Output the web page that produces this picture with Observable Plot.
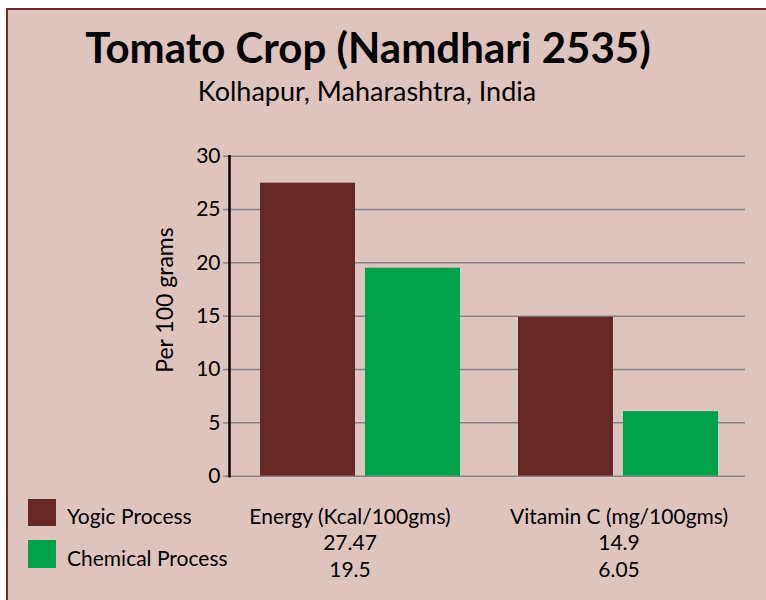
<!DOCTYPE html>
<html>
<head>
<meta charset="utf-8">
<script src="https://cdn.jsdelivr.net/npm/d3@7"></script>
<script src="https://cdn.jsdelivr.net/npm/@observablehq/plot@0.6"></script>
<style>
  html, body { margin: 0; padding: 0; background: #ffffff; }
  #wrap { position: relative; width: 766px; height: 600px; overflow: hidden; font-family: Lato, "Open Sans", sans-serif; color: #000; }
  #box { position: absolute; left: 6px; top: 8px; width: 820px; height: 640px; border: 2px solid #6e2b2a; background: #dec4be; box-sizing: border-box; }
  .t { position: absolute; white-space: nowrap; line-height: 1; }
  .c { transform: translateX(-50%); }
  .sw { position: absolute; }
  #chart { position: absolute; left: 0; top: 130px; }
</style>
</head>
<body>
<div id="wrap">
  <div id="box"></div>
  <div id="chart"></div>
</div>
<script>
const title = "Tomato Crop (Namdhari 2535)";
const subtitle = "Kolhapur, Maharashtra, India";
const yLabel = "Per 100 grams";
const groups = ["Energy (Kcal/100gms)", "Vitamin C (mg/100gms)"];
const series = ["Yogic Process", "Chemical Process"];
const yogic = [27.47, 14.9];
const chemical = [19.5, 6.05];
const yTicks = [0, 5, 10, 15, 20, 25, 30];
const colors = ["#662826", "#00a14b"];

const valuesBySeries = [yogic, chemical];
const data = [];
series.forEach((s, si) => groups.forEach((g, gi) => data.push({group: g, series: s, value: valuesBySeries[si][gi]})));

const wrap = document.getElementById("wrap");
function addText(txt, x, baseline, size, opts = {}) {
  const d = document.createElement("div");
  d.className = "t" + (opts.center ? " c" : "");
  d.textContent = txt;
  d.style.fontSize = size + "px";
  d.style.left = x + "px";
  d.style.top = (baseline - 0.887 * size) + "px";
  if (opts.bold) d.style.fontWeight = "bold";
  wrap.appendChild(d);
  return d;
}

addText(title, 368, 63, 42, {center: true, bold: true});
addText(subtitle, 367, 101, 27, {center: true});

// y-axis label (rotated)
const yl = document.createElement("div");
yl.className = "t";
yl.textContent = yLabel;
yl.style.fontSize = "23px";
yl.style.left = "164px";
yl.style.top = "300px";
yl.style.transform = "translate(-50%, -50%) rotate(-90deg)";
wrap.appendChild(yl);

const chart = Plot.plot({
  width: 766,
  height: 360,
  marginTop: 25.7,
  marginBottom: 14.3,
  marginLeft: 228,
  marginRight: 21,
  style: {background: "transparent", fontFamily: "Lato, 'Open Sans', sans-serif", color: "#000"},
  fx: {domain: groups, padding: 0, axis: null},
  x: {domain: series, paddingInner: 0.095, paddingOuter: 0.274, align: 0.53, axis: null},
  y: {domain: [0, 30], axis: null},
  color: {domain: series, range: colors},
  marks: [
    Plot.ruleY(yTicks, {stroke: "#858585", strokeWidth: 1.5, strokeOpacity: 1}),
    Plot.barY(data, {fx: "group", x: "series", y: "value", fill: "series"}),
    Plot.axisY({ticks: yTicks, tickSize: 6, tickPadding: 3, stroke: "#858585", strokeWidth: 1.5, strokeOpacity: 1, fontSize: 21, fill: "#000", label: null}),
    Plot.frame({anchor: "left", fx: () => groups[0], stroke: "#000", strokeWidth: 2.5, strokeOpacity: 1})
  ]
});
document.getElementById("chart").appendChild(chart);

// legend swatches + table
const swY = [499, 540];
const swH = [27, 28];
series.forEach((s, i) => {
  const sw = document.createElement("div");
  sw.className = "sw";
  sw.style.left = "28px";
  sw.style.top = swY[i] + "px";
  sw.style.width = "28px";
  sw.style.height = swH[i] + "px";
  sw.style.background = colors[i];
  wrap.appendChild(sw);
});
addText(series[0], 67, 524, 21);
addText(series[1], 67, 566, 21);

const colX = [350, 619];
groups.forEach((g, gi) => {
  addText(g, colX[gi], 524, 21, {center: true});
  addText(String(yogic[gi]), colX[gi], 550, 21, {center: true});
  addText(String(chemical[gi]), colX[gi], 577, 21, {center: true});
});
</script>
</body>
</html>
